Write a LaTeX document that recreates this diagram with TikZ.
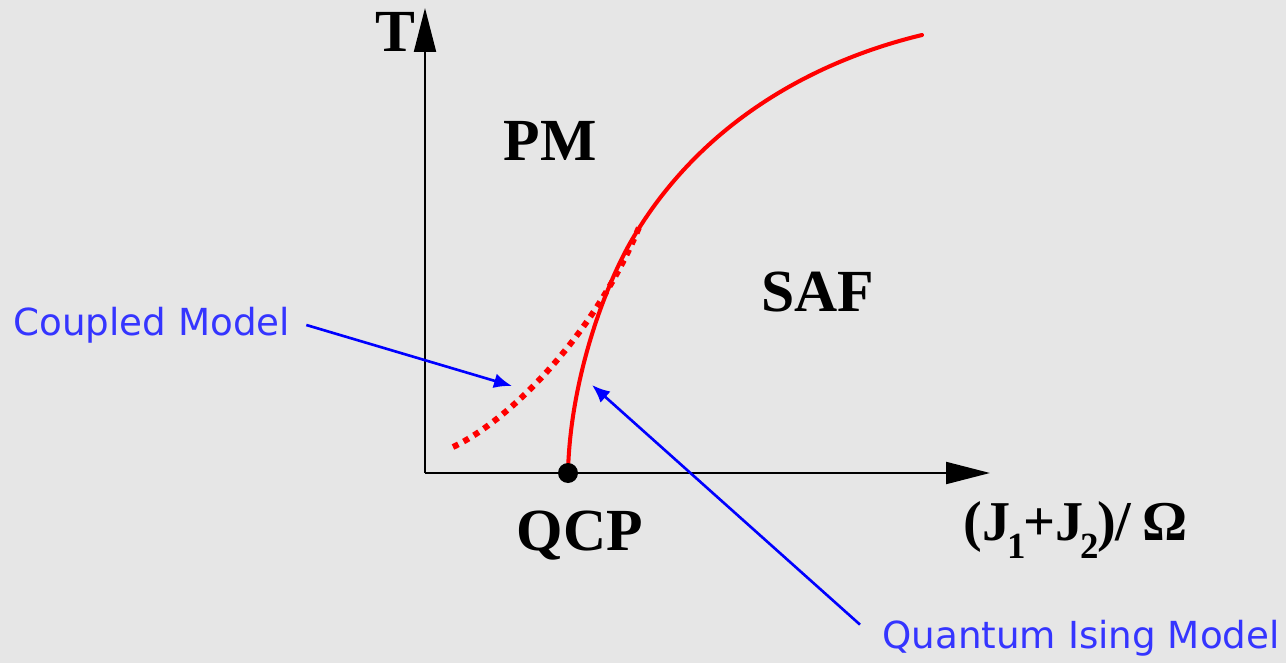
\documentclass[tikz,border=0pt]{standalone}
\usepackage{xcolor}
\usepackage{fontspec}
\setmainfont{Liberation Serif}
\newfontfamily\modelfont{DejaVu Sans}
\usetikzlibrary{arrows.meta}
\definecolor{bggray}{HTML}{E6E6E6}
\definecolor{modelblue}{HTML}{3535FF}
\definecolor{arrowblue}{HTML}{0000FF}
\newcommand{\lowsub}[1]{\kern-0.05em\raisebox{-0.32em}{\fontsize{21}{21}\selectfont #1}\kern-0.04em}

\begin{document}
\begin{tikzpicture}[x=0.02cm, y=-0.02cm,
    phase/.style={font=\fontsize{34}{40}\selectfont\bfseries, inner sep=0pt},
    model/.style={font=\modelfont\fontsize{21.2}{25}\selectfont, text=modelblue, inner sep=0pt},
    axis/.style={line width=1.2pt, -{Triangle[length=0.88cm, width=0.44cm]}},
    pointer/.style={arrowblue, line width=1.5pt, -{Latex[length=0.36cm, width=0.3cm]}}]
    \fill[bggray] (0,0) rectangle (1286,663);
    \useasboundingbox (0,0) rectangle (1286,663);

    % axes
    \coordinate (o) at (425,473);
    \coordinate (ytip) at (425,8);
    \coordinate (xtip) at (990,473);
    \draw[axis] (o) -- (ytip);
    \draw[axis] (o) -- (xtip);

    % phase boundaries
    \draw[red, line width=2.3pt, line cap=round] (568,473) .. controls (570,380) and (605,285) .. (633,238)
        .. controls (700,125) and (810,62) .. (922,35);
    \draw[red, line width=3.4pt, dash pattern=on 3.4pt off 3.4pt]
        (453,447) .. controls (510,420) and (595,335) .. (640,225);
    \node[circle, fill=black, minimum size=0.4cm, inner sep=0pt] (qcpdot) at (568,473) {};

    % labels
    \node[phase] (T) at (395,32) {T};
    \node[phase] (PM) at (550,141) {PM};
    \node[phase] (SAF) at (818,292) {SAF};
    \node[phase] (QCP) at (580,536) {QCP};
    \node[phase, font=\fontsize{32}{38}\selectfont\bfseries, anchor=west] (xlabel) at (963,530)
        {(J\lowsub{1}+J\lowsub{2})/\kern0.2em Ω};

    \node[model, anchor=west] (coupled) at (13,325) {Coupled Model};
    \node[model, anchor=west] (ising) at (882,638) {Quantum Ising Model};

    \coordinate (cmtip) at (512,386);
    \coordinate (qimtip) at (592,385);
    \draw[pointer] ([xshift=0.32cm]coupled.east) -- (cmtip);
    \draw[pointer] ([xshift=-0.44cm, yshift=-0.1cm]ising.north west) -- (qimtip);
\end{tikzpicture}
\end{document}
